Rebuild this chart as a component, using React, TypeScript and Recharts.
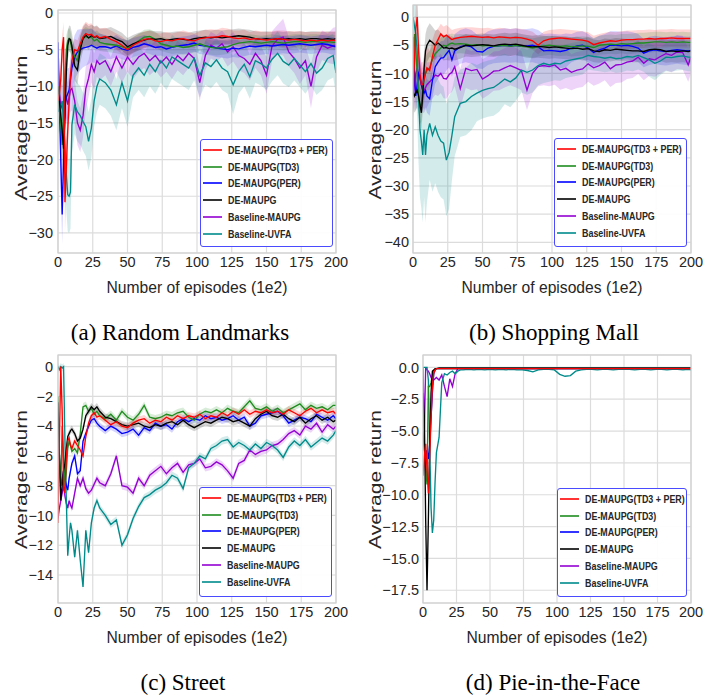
import React from 'react';
import { ComposedChart, Line, Area, XAxis, YAxis, CartesianGrid } from 'recharts';

// ---------- shared x positions (episodes, 1e2) ----------
const xs = [
  0, 1, 2, 3, 4, 5, 6, 7, 8, 9, 10,
  12, 14, 16, 18, 20, 22, 24, 26, 28, 30,
  34, 38, 42, 46, 50, 54, 58, 62, 66, 70,
  74, 78, 82, 86, 90, 94, 98, 102, 106, 110,
  114, 118, 122, 126, 130, 134, 138, 142, 146, 150,
  154, 158, 162, 166, 170, 174, 178, 182, 186, 190,
  194, 198, 200,
];
const xTicks = [0, 25, 50, 75, 100, 125, 150, 175, 200];

const SERIES = [
  { key: 'r', name: 'DE-MAUPG(TD3 + PER)', color: '#ff0000' },
  { key: 'g', name: 'DE-MAUPG(TD3)', color: '#1e8c1e' },
  { key: 'b', name: 'DE-MAUPG(PER)', color: '#0000ff' },
  { key: 'k', name: 'DE-MAUPG', color: '#000000' },
  { key: 'p', name: 'Baseline-MAUPG', color: '#9400d3' },
  { key: 't', name: 'Baseline-UVFA', color: '#008b8b' },
];
const DRAW_ORDER = ['p', 't', 'b', 'g', 'k', 'r'];

// ---------- (a) Random Landmarks ----------
const aRed = [
  -12, -11, -9, -5, -3.3, -25.8, -21, -16, -12, -8.5, -6.5,
  -5, -5.2, -4.2, -3.3, -2.8, -3, -2.9, -3.3, -3.1, -3.4,
  -3.2, -3.6, -3.9, -4.4, -5, -4.4, -4, -3.6, -3.5, -3.8,
  -3.9, -3.7, -3.8, -3.6, -3.5, -3.7, -3.8, -3.5, -3.4, -3.3,
  -3.3, -3.1, -3.2, -3.4, -3.5, -3.4, -3.6, -3.5, -3.6, -3.7,
  -3.6, -3.5, -3.6, -3.7, -3.6, -3.7, -3.8, -3.7, -3.8, -3.7,
  -3.8, -3.7, -3.8,
];
const aGreen = [
  -10, -13, -15, -18, -14, -9, -5, -3.8, -3.5, -4, -5,
  -6, -6.5, -4.5, -3.5, -3.2, -3.4, -3.3, -3.8, -3.6, -4,
  -4.2, -4.3, -4.4, -4.6, -4.8, -4.4, -3.8, -3.3, -3.2, -3.6,
  -4.2, -4.4, -4.6, -4.5, -4.7, -4.6, -4.4, -4.2, -4.5, -4.7,
  -4.8, -4.7, -4.6, -4.3, -4.1, -4, -3.9, -4, -4.1, -4,
  -3.9, -4, -4.1, -4, -3.9, -3.9, -4, -3.9, -3.9, -4,
  -3.9, -4, -4,
];
const aBlue = [
  -4, -12, -20, -27.5, -20, -12.5, -11.5, -11, -10.5, -9, -7.5,
  -6, -5.3, -5, -4.8, -4.7, -4.6, -4.4, -4.6, -4.8, -4.6,
  -4.6, -4.8, -4.5, -4.9, -5.1, -4.7, -4.5, -4.2, -4.4, -4.7,
  -4.6, -4.9, -4.7, -4.5, -4.4, -4.3, -4.1, -4.4, -4.5, -4.6,
  -4.8, -4.9, -5, -4.8, -4.9, -4.7, -4.5, -4.6, -4.5, -4.4,
  -4.5, -4.4, -4.3, -4.4, -4.3, -4.2, -4.3, -4.4, -4.3, -4.2,
  -4.3, -4.5, -4.6,
];
const aBlack = [
  -10, -12, -14, -16, -18.5, -14, -8, -4.5, -3.5, -3.6, -4.5,
  -7.2, -7.8, -5, -3.5, -3, -3.4, -3.1, -3.3, -3.2, -3.5,
  -3.4, -3.2, -3.6, -3.9, -4.6, -4.2, -3.9, -3.7, -3.5, -3.6,
  -3.5, -3.7, -3.6, -3.5, -3.6, -3.7, -3.5, -3.4, -3.3, -3.4,
  -3.3, -3.4, -3.3, -3.2, -3.1, -3.2, -3.3, -3.5, -3.6, -3.5,
  -3.6, -3.5, -3.6, -3.5, -3.6, -3.5, -3.6, -3.5, -3.5, -3.6,
  -3.5, -3.6, -3.5,
];
const aPurple = [
  -9.4, -11, -12.5, -13, -12, -11, -11.5, -12.5, -11.5, -10.5, -10.3,
  -12, -15, -16, -14, -10.3, -8.9, -7, -8, -6.5, -7,
  -6.5, -8, -6, -7.5, -6, -7, -6, -5.5, -6.5, -5.8,
  -6.8, -6, -7, -5.8, -6.5, -5.5, -6.2, -9.5, -5.8, -4.4,
  -4.8, -4.2, -5.3, -4.6, -5.8, -6.2, -7, -5.5, -6.5, -8.5,
  -4.5, -3.6, -3.3, -5.3, -6.2, -7.5, -6.5, -10, -6, -4.4,
  -4.8, -4.5, -4.4,
];
const aTeal = [
  -13.5, -13, -12.5, -12, -15, -18, -22, -24.8, -25, -24.4, -15.3,
  -12.5, -13.5, -14, -14.8, -15.5, -17.5, -15.7, -12, -10, -9,
  -9.5, -10.5, -12.5, -9.5, -12, -8.5, -7.5, -8.5, -7, -8,
  -6.5, -7.5, -6, -6.5, -7, -7.5, -6.2, -8.5, -6.8, -7.3,
  -6.4, -7.5, -8, -9.8, -8, -7, -8.7, -6.5, -6.9, -7.5,
  -6.3, -5.5, -6.6, -7.1, -6.2, -7.1, -8, -6.9, -8.2, -7.5,
  -6.2, -5.8, -8.2,
];
const aRedSpread = [
  1.5, 2, 2.5, 2, 2, 4, 4, 3, 2.5, 2, 1.8,
  1.5, 1.5, 1.5, 1.6, 1.6, 1.5, 1.5, 1.4, 1.3, 1.3,
  1.2, 1.2, 1.1, 1.2, 1.1, 1.1, 1.1, 1.1, 1.1, 1.1,
  1.1, 1.1, 1, 1, 1.1, 1.1, 1, 1, 1.1, 1.1,
  1, 1.1, 1.1, 1, 1.1, 1.1, 1, 1.1, 1.1, 1.1,
  1.1, 1.1, 1.2, 1.2, 1.1, 1.2, 1.2, 1.1, 1.2, 1.2,
  1.2, 1.2, 1.2,
];
const aGreenSpread = [
  2, 2.5, 3, 3, 3, 2.5, 2, 1.5, 1.5, 1.5, 1.5,
  1.5, 1.5, 1.4, 1.3, 1.3, 1.3, 1.2, 1.2, 1.2, 1.2,
  1.1, 1.1, 1.1, 1.1, 1.1, 1.1, 1, 1, 1, 1,
  1, 1, 1, 1, 1, 1, 1, 1, 1, 1,
  1, 1, 1, 1, 1, 1, 1, 1, 1, 1,
  1, 1, 1, 1, 1, 1, 1, 1, 1, 1,
  1, 1, 1,
];
const aBlueSpread = [
  2, 3, 4, 4, 4, 4, 3.5, 3.5, 3, 3, 3,
  3, 3, 2.8, 2.6, 2.5, 2.4, 2.3, 2.2, 2, 1.8,
  1.6, 1.5, 1.5, 1.4, 1.4, 1.3, 1.3, 1.2, 1.2, 1.2,
  1.2, 1.2, 1.2, 1.2, 1.2, 1.2, 1.2, 1.2, 1.2, 1.2,
  1.2, 1.2, 1.2, 1.2, 1.2, 1.2, 1.2, 1.2, 1.2, 1.2,
  1.2, 1.2, 1.2, 1.2, 1.2, 1.2, 1.2, 1.2, 1.2, 1.2,
  1.2, 1.2, 1.2,
];
const aBlackSpread = [
  2, 2.5, 3, 3, 3, 3, 2.5, 2, 1.8, 1.8, 1.8,
  2, 2, 1.8, 1.6, 1.6, 1.6, 1.5, 1.5, 1.5, 1.4,
  1.3, 1.3, 1.3, 1.2, 1.2, 1.2, 1.2, 1.1, 1.1, 1.1,
  1, 1, 1, 1, 1, 1, 1, 1, 1, 1,
  1, 1, 1, 1, 1, 1, 1, 1, 1, 1,
  1, 1, 1, 1, 1, 1, 1, 1, 1, 1,
  1, 1, 1,
];
const aPurpleSpread = [
  2.5, 3, 3, 3, 3, 3, 3, 3, 3, 3, 3,
  3, 3, 3, 3, 3, 2.5, 2.5, 2.5, 2.2, 2.2,
  2, 2, 2, 2, 2, 2, 2, 2, 2, 2,
  2, 2, 2, 2, 2, 2, 2, 2.5, 2, 1.8,
  1.8, 1.8, 2, 2, 2, 2, 2.2, 2, 2, 2.5,
  2, 2, 2.5, 2, 2, 2.2, 2, 3, 2.2, 2,
  2, 2.5, 2.5,
];
const aTealSpread = [
  3, 3, 4, 4, 4, 5, 5, 5, 5, 5, 4,
  4, 4, 4, 4, 4, 4, 4, 3.5, 3.5, 3.5,
  3.5, 3.5, 3.5, 3.5, 3.5, 3, 3, 3, 3, 3,
  3, 3, 3, 3, 3, 3, 3, 3, 3, 3,
  3, 3, 3, 4, 3, 3, 3, 3, 3, 3,
  3, 3, 3, 3, 3, 3, 3, 3, 3, 3,
  3, 3, 3,
];

// ---------- (b) Shopping Mall ----------
const bRed = [
  -14, -8, -2, 0, -6, -10, -12, -12, -11, -10, -9,
  -9.5, -7, -5, -4, -3, -3.5, -3.2, -3.6, -4, -3.8,
  -3.6, -3.5, -3.4, -3.5, -3.6, -3.5, -3.7, -3.5, -3.6, -3.7,
  -3.6, -3.7, -3.9, -4.2, -5, -4.2, -3.9, -3.8, -3.7, -3.8,
  -3.9, -4, -4.1, -4.3, -4.9, -4.6, -4.4, -4.2, -4.3, -4.1,
  -4, -4, -3.9, -3.9, -3.8, -3.9, -3.8, -3.8, -3.7, -3.8,
  -3.8, -3.8, -3.8,
];
const bGreen = [
  -10, -3, -6, -10, -14, -16, -15.5, -13, -11, -10, -9.5,
  -9, -7.5, -6.5, -6, -5.5, -5, -5.2, -4.8, -4.6, -4.8,
  -4.7, -4.8, -5, -4.9, -5.1, -5, -5.2, -5.1, -5, -5.2,
  -5, -5.2, -5.3, -5.5, -5.3, -5.1, -5, -5.1, -5.2, -5.1,
  -5.3, -5.2, -5.1, -5.2, -5.4, -5, -4.9, -4.8, -4.9, -4.7,
  -4.8, -4.7, -4.6, -4.6, -4.5, -4.4, -4.4, -4.5, -4.4, -4.5,
  -4.4, -4.5, -4.5,
];
const bBlue = [
  -3.5, -10, -14, -12, -10, -10.5, -12, -13, -13.5, -13, -14,
  -14.5, -11.2, -8.8, -8, -7.3, -7.2, -6.5, -5.9, -7.6, -6,
  -5.3, -5, -5.3, -6.1, -6.2, -5.5, -5.2, -5.1, -5, -5.1,
  -5, -5.2, -5.1, -5, -5.3, -6, -5.9, -6, -6.1, -5.9,
  -5.5, -5.1, -5, -5.5, -6.3, -5.8, -5.5, -5, -5, -5.1,
  -5, -5.2, -5.5, -6.4, -6, -5.8, -6, -6.1, -5.9, -5.8,
  -5.9, -6, -5.9,
];
const bBlack = [
  -13, -14, -13.5, -13, -14, -15.5, -17, -14, -9, -6, -5,
  -4.1, -4.5, -5, -4.6, -5, -5.5, -5.4, -5.6, -5.5, -5.7,
  -5.4, -5, -5.1, -5, -4.9, -5, -5.1, -4.9, -4.8, -4.9,
  -4.8, -5, -5.2, -5.3, -5.2, -5.3, -5.4, -5.3, -5.4, -5.5,
  -5.6, -5.5, -5.7, -5.6, -6, -6.1, -5.8, -5.9, -5.7, -5.8,
  -5.9, -6, -6, -6.1, -5.8, -5.7, -5.8, -6.1, -6, -6.1,
  -6, -6.1, -6,
];
const bPurple = [
  -14, -12, -10, -9, -10, -11, -12, -13, -13, -12.5, -12,
  -11.5, -11, -10.3, -10.5, -10, -10.9, -11, -10.2, -9.8, -8.8,
  -12.7, -9.1, -9.5, -9.3, -11, -10.4, -9.6, -9.5, -9, -8.6,
  -9, -9.5, -13, -10, -8.8, -8.6, -8.8, -8.5, -9.4, -9.1,
  -9.8, -9.4, -9.2, -8.3, -9, -8.6, -8, -9.2, -8.5, -8.4,
  -8, -7.8, -7.1, -8.2, -7.4, -7.6, -7, -6.5, -6.8, -6.2,
  -6.3, -8.5, -7,
];
const bTeal = [
  0, -1.5, -3, -6, -14, -20, -22, -24.5, -20, -24.5, -21,
  -18.9, -21, -19.5, -21, -22, -22.4, -25.4, -24, -21, -17.7,
  -15.3, -15, -14.1, -13.5, -13, -12.7, -12.5, -11.8, -11, -11.5,
  -10.8, -9.4, -9.8, -9.4, -8.6, -8.2, -8.5, -8.2, -8.3, -7.8,
  -7.6, -7.4, -7.2, -6.8, -7, -7.1, -7.3, -7.1, -7.4, -7.3,
  -7, -7.1, -6.8, -7.2, -7.6, -8.2, -7.8, -7.1, -7.2, -7,
  -6.9, -7.1, -7.1,
];
const bRedSpread = [
  3, 4, 4, 3, 4, 4, 4, 4, 4, 4, 4,
  3.5, 3, 2.5, 2, 1.8, 1.8, 1.8, 1.8, 1.7, 1.7,
  1.7, 1.7, 1.6, 1.6, 1.6, 1.6, 1.6, 1.6, 1.6, 1.6,
  1.6, 1.6, 1.6, 1.6, 1.6, 1.6, 1.6, 1.6, 1.6, 1.6,
  1.6, 1.6, 1.6, 1.6, 1.6, 1.6, 1.6, 1.6, 1.6, 1.6,
  1.6, 1.6, 1.6, 1.6, 1.6, 1.6, 1.6, 1.6, 1.6, 1.6,
  1.6, 1.6, 1.6,
];
const bGreenSpread = [
  3, 3, 3, 3, 3, 3, 3, 3, 3, 3, 3,
  3, 2.5, 2, 2, 1.8, 1.8, 1.8, 1.7, 1.7, 1.7,
  1.7, 1.7, 1.7, 1.7, 1.7, 1.7, 1.7, 1.7, 1.7, 1.7,
  1.7, 1.7, 1.7, 1.7, 1.7, 1.7, 1.7, 1.7, 1.7, 1.7,
  1.7, 1.7, 1.7, 1.7, 1.7, 1.7, 1.7, 1.7, 1.7, 1.7,
  1.8, 1.8, 1.8, 1.8, 1.8, 1.8, 1.8, 1.8, 1.8, 1.8,
  1.8, 1.8, 1.8,
];
const bBlueSpread = [
  3, 3, 3, 3, 3, 3, 3, 3, 3, 3, 3,
  3, 3, 3, 3, 3, 3, 3, 3, 3, 3,
  3, 3, 3, 3, 3, 3, 3, 3, 3, 3,
  3, 3, 3, 3, 3, 3, 3, 3, 3, 3,
  2.5, 2.5, 2.5, 2.5, 2.5, 2.5, 2.5, 2.5, 2.5, 2.5,
  2.5, 2.5, 2.5, 2.5, 2.5, 2.5, 2.5, 2.5, 2.5, 2.5,
  2.5, 2.5, 2.5,
];
const bBlackSpread = [
  3, 3, 3, 3, 3, 3, 3, 3, 3, 3, 3,
  3, 2.8, 2.6, 2.4, 2.2, 2.2, 2.2, 2.1, 2.1, 2,
  2, 2, 2, 2, 2, 2, 2, 2, 2, 2,
  2, 2, 2, 2, 2, 2, 2, 2, 2, 2,
  2, 2, 2, 2, 2, 2, 2, 2, 2, 2,
  2, 2, 2, 2, 2, 2, 2, 2, 2, 2,
  2, 2, 2,
];
const bPurpleSpread = [
  4, 4, 4, 4, 4, 4, 4, 4, 4, 4, 4,
  3.5, 3.5, 3.5, 3.5, 3.5, 3.5, 3.5, 3.5, 3.5, 3.5,
  3.5, 3.5, 3.5, 3.5, 3.5, 3.5, 3.5, 3.5, 3.5, 3.5,
  3.5, 3.5, 3.5, 3.5, 3.5, 3.5, 3.5, 3.5, 3.5, 3.5,
  3.2, 3.2, 3.2, 3.2, 3.2, 3.2, 3.2, 3.2, 3.2, 3.2,
  3, 3, 3, 3, 3, 3, 3, 3, 3, 3,
  3, 3, 3,
];
const bTealSpread = [
  5, 6, 10, 12, 12, 12, 12, 12, 12, 12, 12,
  10, 10, 10, 10, 10, 10, 10, 10, 8, 7,
  6, 6, 6, 5, 5, 5, 5, 5, 4.5, 4.5,
  4, 4, 4, 4, 3.5, 3.5, 3, 3, 3, 3,
  3, 3, 3, 2.5, 2.5, 2.5, 2.5, 2.5, 2.5, 2.5,
  2.5, 2.5, 2.5, 2.5, 3, 3, 2.5, 2.5, 2.5, 2.5,
  2.5, 2.5, 2.5,
];

// ---------- (c) Street ----------
const cRed = [
  -10.5, -5, 0, -3, -8, -8.5, -6, -5, -4.8, -5.3, -5.5,
  -5, -5.3, -5.6, -6, -4.7, -3.8, -3.3, -3.1, -3.4, -3.3,
  -3.6, -3.9, -3.7, -4, -4.1, -3.8, -3.6, -3.5, -3.8, -3.6,
  -3.7, -3.4, -3.6, -3.3, -3.5, -3.3, -3.4, -3.2, -3.5, -3.3,
  -3.4, -3.1, -3.3, -3, -3.2, -2.9, -3.2, -3, -3.1, -2.9,
  -3.1, -3, -3.2, -2.9, -3.1, -3.3, -3, -2.8, -3.1, -2.9,
  -3.1, -3, -3.2,
];
const cGreen = [
  -2, -6, -8, -4, -6, -8, -7, -5.5, -5, -5.3, -5.7,
  -5.5, -5.8, -4.5, -2.7, -2.6, -3, -2.8, -3.2, -3, -3.3,
  -3.5, -3.2, -3.6, -3, -3.4, -3.6, -3.2, -2.6, -3.4, -3.5,
  -3.4, -3.2, -3.3, -3.1, -3, -3.4, -3.6, -3.2, -3, -3.1,
  -2.9, -3.1, -2.8, -3, -3.1, -2.7, -2.3, -2.8, -2.9, -2.7,
  -3, -2.8, -3.1, -2.9, -2.7, -2.5, -2.9, -2.6, -2.8, -2.7,
  -2.9, -2.6, -2.6,
];
const cBlue = [
  -2.5, -6, -8, -7.5, -7, -7.5, -8, -8.3, -7.5, -7, -6.5,
  -6, -7.2, -7, -5, -4.5, -4, -3.6, -3.5, -3.8, -4,
  -4.3, -4, -4.2, -4.5, -4.4, -4.2, -4.6, -4.1, -4.3, -3.8,
  -4, -3.9, -4.2, -3.7, -3.5, -3.7, -3.5, -3.6, -3.3, -3.5,
  -3.4, -3.6, -3.5, -3.3, -3.6, -3.4, -4, -3.8, -3.3, -3.2,
  -3.1, -3, -3.3, -3.8, -3.6, -3.4, -3.5, -3.7, -3.2, -3.4,
  -3.6, -3.3, -3.5,
];
const cBlack = [
  -2.4, -6, -9, -8, -7, -6.5, -5.5, -4.7, -4.5, -4.3, -4.2,
  -4.5, -5, -4.8, -4.2, -3.3, -3, -2.7, -2.9, -2.7, -3,
  -3.4, -3.5, -3.7, -3.9, -4, -3.9, -3.8, -4, -4.1, -3.9,
  -4, -3.8, -3.7, -3.9, -3.6, -3.9, -4.1, -3.9, -3.7, -3.8,
  -3.6, -3.4, -3.5, -3.7, -3.6, -3.8, -4, -3.5, -3.2, -3,
  -3.3, -3.4, -3.2, -3.5, -3.7, -3.4, -3.8, -3.5, -3.3, -3.6,
  -3.4, -3.7, -3.6,
];
const cPurple = [
  -10.2, -9.5, -9, -8.5, -8, -8.7, -9.2, -9.5, -9, -9.3, -9.5,
  -8.5, -7.5, -8, -7.5, -8.2, -8.5, -8.3, -7.9, -7.5, -7.8,
  -8, -7.2, -6, -8, -8.1, -8.5, -7.5, -8, -7.3, -7,
  -6.7, -7.2, -6.8, -6.5, -7.1, -6.6, -6.5, -6.2, -6.8, -6.7,
  -6.4, -6.6, -7, -7.5, -6.5, -6.3, -5.6, -5.9, -5.7, -5.6,
  -5.3, -5.2, -4.9, -4.5, -4.3, -4.6, -4, -4.2, -3.8, -4.4,
  -3.9, -4.2, -4,
];
const cTeal = [
  0, -0.2, 0, -0.1, 0, -5, -9, -12.7, -11.5, -10.5, -11,
  -12.8, -11, -13, -14.8, -11, -12.5, -10.5, -9.5, -9, -9.5,
  -10, -10.6, -10.3, -12, -11.3, -10.2, -9.4, -8.8, -8.6, -8.3,
  -8.1, -7.8, -7.3, -7.5, -8.2, -6.8, -6.5, -6, -6.2, -5.5,
  -5.3, -5, -4.9, -5.4, -5.1, -5.3, -5.6, -5.2, -5.5, -5.1,
  -5.3, -5.6, -6.1, -5.4, -5, -5.3, -4.9, -5.4, -5.1, -4.8,
  -5, -4.6, -4.3,
];
const cSpread = 0.25;

// ---------- (d) Pie-in-the-Face ----------
const dRed = [
  -8.5, -7, -6, -8, -9.9, -7, -4, -1.5, -0.5, -0.2, -0.1,
  -0.1, -0.1, -0.1, -0.1, -0.1, -0.1, -0.1, -0.1, -0.1, -0.1,
  -0.1, -0.1, -0.1, -0.1, -0.1, -0.1, -0.1, -0.1, -0.1, -0.1,
  -0.1, -0.1, -0.1, -0.1, -0.1, -0.1, -0.1, -0.1, -0.1, -0.1,
  -0.1, -0.1, -0.1, -0.1, -0.1, -0.1, -0.1, -0.1, -0.1, -0.1,
  -0.1, -0.1, -0.1, -0.1, -0.1, -0.1, -0.1, -0.1, -0.1, -0.1,
  -0.1, -0.1, -0.1,
];
const dGreen = [
  -3, -6, -8, -9.2, -1.5, -1.5, -1.2, -0.6, -0.3, -0.2, -0.1,
  -0.1, -0.1, -0.1, -0.1, -0.1, -0.1, -0.1, -0.1, -0.1, -0.1,
  -0.1, -0.1, -0.1, -0.1, -0.1, -0.1, -0.1, -0.1, -0.1, -0.1,
  -0.1, -0.1, -0.1, -0.1, -0.1, -0.1, -0.1, -0.1, -0.1, -0.1,
  -0.1, -0.1, -0.1, -0.1, -0.1, -0.1, -0.1, -0.1, -0.1, -0.1,
  -0.1, -0.1, -0.1, -0.1, -0.1, -0.1, -0.1, -0.1, -0.1, -0.1,
  -0.1, -0.1, -0.1,
];
const dBlue = [
  -5, -6.5, -7, -6.5, -7.2, -6, -4, -2, -0.5, -0.2, -0.1,
  -0.1, -0.1, -0.1, -0.1, -0.1, -0.1, -0.1, -0.1, -0.1, -0.1,
  -0.1, -0.1, -0.1, -0.1, -0.1, -0.1, -0.1, -0.1, -0.1, -0.1,
  -0.1, -0.1, -0.1, -0.1, -0.1, -0.1, -0.1, -0.1, -0.1, -0.1,
  -0.1, -0.1, -0.1, -0.1, -0.1, -0.1, -0.1, -0.1, -0.1, -0.1,
  -0.1, -0.1, -0.1, -0.1, -0.1, -0.1, -0.1, -0.1, -0.1, -0.1,
  -0.1, -0.1, -0.1,
];
const dBlack = [
  -2, -3.8, -12, -17.5, -12, -6, -2, -0.3, -0.2, -0.1, -0.1,
  -0.05, -0.05, -0.05, -0.05, -0.05, -0.05, -0.05, -0.05, -0.05, -0.05,
  -0.05, -0.05, -0.05, -0.05, -0.05, -0.05, -0.05, -0.05, -0.05, -0.05,
  -0.05, -0.05, -0.05, -0.05, -0.05, -0.05, -0.05, -0.05, -0.05, -0.05,
  -0.05, -0.05, -0.05, -0.05, -0.05, -0.05, -0.05, -0.05, -0.05, -0.05,
  -0.05, -0.05, -0.05, -0.05, -0.05, -0.05, -0.05, -0.05, -0.05, -0.05,
  -0.05, -0.05, -0.05,
];
const dPurple = [
  0, -5, 0, -0.2, -0.3, -0.5, -0.8, -1, -1, -0.9, -0.8,
  -1, -0.6, -1.5, -2.3, -0.9, -1.5, -0.5, -0.1, -0.1, -0.1,
  -0.1, -0.1, -0.1, -0.1, -0.1, -0.1, -0.1, -0.1, -0.1, -0.1,
  -0.1, -0.1, -0.1, -0.1, -0.1, -0.1, -0.1, -0.1, -0.1, -0.1,
  -0.1, -0.1, -0.1, -0.1, -0.1, -0.1, -0.1, -0.1, -0.1, -0.1,
  -0.1, -0.1, -0.1, -0.1, -0.1, -0.1, -0.1, -0.1, -0.1, -0.1,
  -0.1, -0.1, -0.1,
];
const dTeal = [
  0, 0, 0, 0, -1, -6, -11, -13, -12, -9, -6.7,
  -5.5, -1.2, -0.5, -0.6, -0.4, -0.3, -0.5, -0.3, -0.2, -0.2,
  -0.15, -0.2, -0.15, -0.2, -0.15, -0.2, -0.15, -0.2, -0.15, -0.2,
  -0.2, -0.25, -0.35, -0.2, -0.15, -0.15, -0.2, -0.55, -0.7, -0.65,
  -0.3, -0.2, -0.15, -0.15, -0.2, -0.15, -0.15, -0.2, -0.15, -0.15,
  -0.15, -0.2, -0.15, -0.15, -0.2, -0.15, -0.15, -0.2, -0.15, -0.15,
  -0.2, -0.15, -0.2,
];

// ---------- helpers ----------
function buildRows(vals: number[][], spreads: (number[] | number)[]) {
  return xs.map((x, i) => {
    const row: any = { x };
    SERIES.forEach((s, j) => {
      const v = vals[j][i];
      const sp = spreads[j];
      const w = Array.isArray(sp) ? sp[i] : sp;
      row[s.key] = v;
      row[s.key + 'Band'] = [v - w, v + w];
    });
    return row;
  });
}

const rowsA = buildRows(
  [aRed, aGreen, aBlue, aBlack, aPurple, aTeal],
  [aRedSpread, aGreenSpread, aBlueSpread, aBlackSpread, aPurpleSpread, aTealSpread]
);
const rowsB = buildRows(
  [bRed, bGreen, bBlue, bBlack, bPurple, bTeal],
  [bRedSpread, bGreenSpread, bBlueSpread, bBlackSpread, bPurpleSpread, bTealSpread]
);
const rowsC = buildRows(
  [cRed, cGreen, cBlue, cBlack, cPurple, cTeal],
  [cSpread, cSpread, cSpread, cSpread, cSpread, cSpread]
);
const rowsD = buildRows(
  [dRed, dGreen, dBlue, dBlack, dPurple, dTeal],
  [0, 0, 0, 0, 0, 0]
);

const fmtInt = (v: number) => (v < 0 ? '\u2212' : '') + Math.abs(v);
const fmtOne = (v: number) => (v < 0 ? '\u2212' : '') + Math.abs(v).toFixed(1);

const SANS = '"Liberation Sans", Arial, Helvetica, sans-serif';
const SERIF = '"Liberation Serif", "Times New Roman", serif';
const TEXT = '#262626';
const tickStyle = { fontSize: 14.5, fill: TEXT, fontFamily: SANS };

type PanelProps = {
  left: number;
  top: number;
  plotLeft: number;
  plotRight: number;
  plotTop: number;
  rows: any[];
  domain: [number, number];
  yTicks: number[];
  fmt: (v: number) => string;
  showBands: boolean;
  yTickGap: number;
  legend: { left: number; top: number; width: number; height: number };
  caption: string;
  captionX: number;
  yLabelX: number;
  yLabelY: number;
  yLabelLen: number;
};

const PLOT_BOTTOM = 253;

function LegendBox({ left, top, width, height }: { left: number; top: number; width: number; height: number }) {
  return (
    <div
      style={{
        position: 'absolute',
        left,
        top,
        width,
        height,
        boxSizing: 'border-box',
        border: '1.3px solid #4a4aff',
        borderRadius: 3,
        background: 'rgba(255,255,255,0.92)',
      }}
    >
      {SERIES.map((s, i) => (
        <div
          key={s.key}
          style={{
            position: 'absolute',
            left: 1.7,
            top: 9.7 + i * 16.8 - 7,
            height: 14,
            display: 'flex',
            alignItems: 'center',
            whiteSpace: 'nowrap',
          }}
        >
          <svg width={19} height={4} style={{ display: 'block', flex: 'none' }}>
            <line x1={0} y1={2} x2={19} y2={2} stroke={s.color} strokeWidth={1.6} />
          </svg>
          <span
            style={{
              marginLeft: 6,
              fontFamily: SANS,
              fontWeight: 'bold',
              fontSize: 11,
              color: TEXT,
              display: 'inline-block',
              transform: 'scaleX(0.81)',
              transformOrigin: 'left center',
            }}
          >
            {s.name}
          </span>
        </div>
      ))}
    </div>
  );
}

function Panel(p: PanelProps) {
  const plotW = p.plotRight - p.plotLeft;
  const cx = (p.plotLeft + p.plotRight) / 2;
  return (
    <div style={{ position: 'absolute', left: p.left, top: p.top, width: 361, height: 350 }}>
      <ComposedChart
        width={361}
        height={300}
        data={p.rows}
        margin={{ top: p.plotTop, right: 361 - p.plotRight, bottom: 0, left: 0 }}
      >
        <CartesianGrid stroke="#dcdcdc" strokeWidth={1.2} />
        <XAxis
          dataKey="x"
          type="number"
          domain={[0, 200]}
          ticks={xTicks}
          interval={0}
          tickLine={false}
          axisLine={false}
          tickSize={2}
          tickMargin={2}
          height={300 - PLOT_BOTTOM}
          tick={tickStyle}
          allowDataOverflow
        />
        <YAxis
          type="number"
          domain={p.domain}
          ticks={p.yTicks}
          interval={0}
          tickLine={false}
          axisLine={false}
          tickSize={p.yTickGap - 2}
          tickMargin={2}
          width={p.plotLeft}
          tick={tickStyle}
          tickFormatter={p.fmt}
          allowDataOverflow
        />
        {p.showBands &&
          SERIES.map((s) => (
            <Area
              key={s.key + 'Band'}
              type="linear"
              dataKey={s.key + 'Band'}
              stroke="none"
              fill={s.color}
              fillOpacity={0.17}
              isAnimationActive={false}
              activeDot={false}
            />
          ))}
        {DRAW_ORDER.map((k) => {
          const s = SERIES.find((q) => q.key === k)!;
          return (
            <Line
              key={k}
              type="linear"
              dataKey={k}
              stroke={s.color}
              strokeWidth={1.35}
              dot={false}
              activeDot={false}
              isAnimationActive={false}
            />
          );
        })}
      </ComposedChart>
      <svg
        width={361}
        height={350}
        style={{ position: 'absolute', left: 0, top: 0, pointerEvents: 'none', overflow: 'visible' }}
      >
        <rect
          x={p.plotLeft}
          y={p.plotTop}
          width={plotW}
          height={PLOT_BOTTOM - p.plotTop}
          fill="none"
          stroke="#d0d0d0"
          strokeWidth={1.2}
        />
        <text
          x={cx}
          y={293}
          textAnchor="middle"
          fontFamily={SANS}
          fontSize={17}
          fill={TEXT}
          textLength={181}
          lengthAdjust="spacingAndGlyphs"
        >
          Number of episodes (1e2)
        </text>
        <text
          x={p.yLabelX}
          y={p.yLabelY}
          textAnchor="middle"
          fontFamily={SANS}
          fontSize={16}
          fill={TEXT}
          transform={`rotate(-90, ${p.yLabelX}, ${p.yLabelY})`}
          textLength={p.yLabelLen}
          lengthAdjust="spacingAndGlyphs"
        >
          Average return
        </text>
        <text x={p.captionX} y={340} textAnchor="middle" fontFamily={SERIF} fontSize={23} fill="#000">
          {p.caption}
        </text>
      </svg>
      <LegendBox {...p.legend} />
    </div>
  );
}

export default function App() {
  return (
    <div style={{ position: 'absolute', left: 0, top: 0, width: 722, height: 696, background: '#fff', overflow: 'hidden' }}>
      <Panel
        left={0}
        top={0}
        plotLeft={58}
        plotRight={336}
        plotTop={10}
        rows={rowsA}
        domain={[-32.74, 0.41]}
        yTicks={[0, -5, -10, -15, -20, -25, -30]}
        fmt={fmtInt}
        showBands
        yTickGap={5}
        legend={{ left: 200, top: 139, width: 133, height: 108 }}
        caption="(a) Random Landmarks"
        captionX={180}
        yLabelX={27}
        yLabelY={128}
        yLabelLen={145}
      />
      <Panel
        left={361}
        top={0}
        plotLeft={52}
        plotRight={330}
        plotTop={5}
        rows={rowsB}
        domain={[-41.9, 2.15]}
        yTicks={[0, -5, -10, -15, -20, -25, -30, -35, -40]}
        fmt={fmtInt}
        showBands
        yTickGap={4}
        legend={{ left: 193, top: 138, width: 133, height: 109 }}
        caption="(b) Shopping Mall"
        captionX={193}
        yLabelX={20}
        yLabelY={130}
        yLabelLen={139}
      />
      <Panel
        left={0}
        top={350}
        plotLeft={58}
        plotRight={336}
        plotTop={5}
        rows={rowsC}
        domain={[-15.88, 0.78]}
        yTicks={[0, -2, -4, -6, -8, -10, -12, -14]}
        fmt={fmtInt}
        showBands
        yTickGap={5}
        legend={{ left: 199, top: 137, width: 133, height: 110 }}
        caption="(c) Street"
        captionX={183}
        yLabelX={27}
        yLabelY={129.5}
        yLabelLen={139}
      />
      <Panel
        left={361}
        top={350}
        plotLeft={62}
        plotRight={330}
        plotTop={5}
        rows={rowsD}
        domain={[-18.5, 0.97]}
        yTicks={[0, -2.5, -5, -7.5, -10, -12.5, -15, -17.5]}
        fmt={fmtOne}
        showBands={false}
        yTickGap={4}
        legend={{ left: 196, top: 138, width: 130, height: 109 }}
        caption="(d) Pie-in-the-Face"
        captionX={192}
        yLabelX={20}
        yLabelY={129.5}
        yLabelLen={139}
      />
    </div>
  );
}
